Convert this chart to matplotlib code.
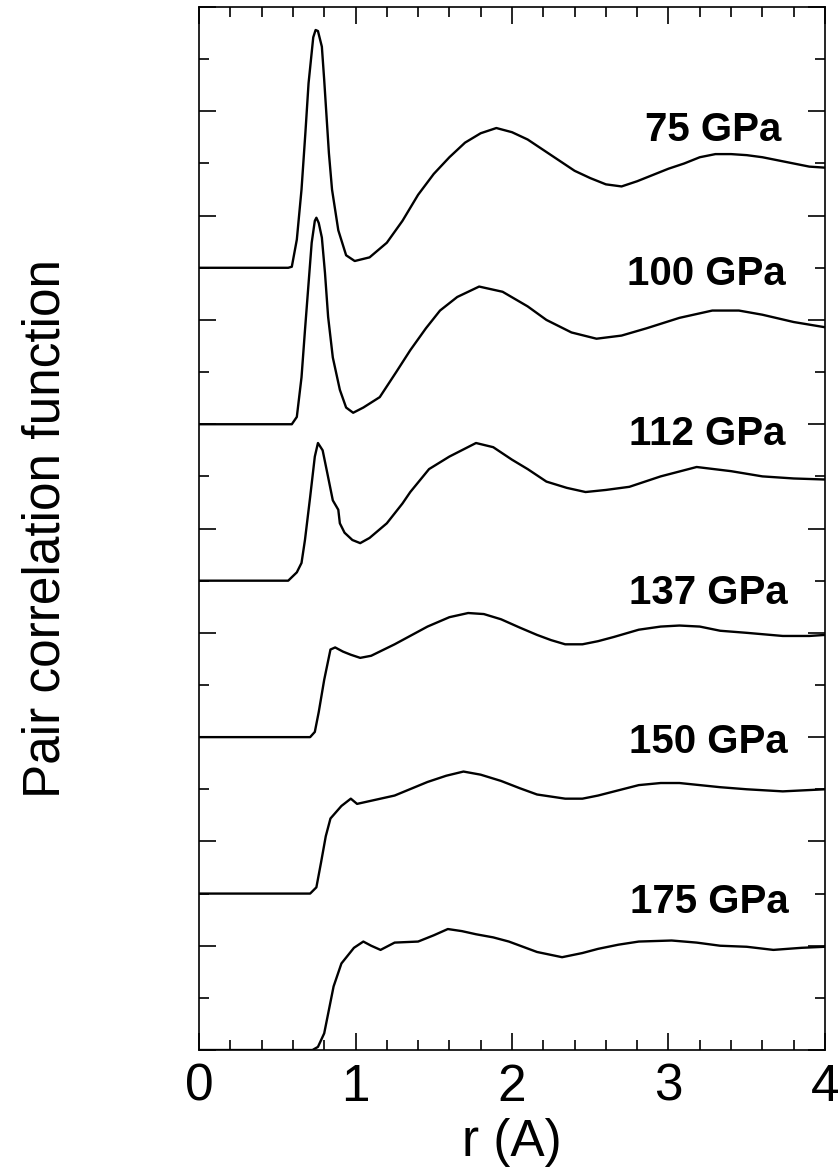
import matplotlib
matplotlib.use("Agg")
import matplotlib.pyplot as plt
import numpy as np
from matplotlib.ticker import MultipleLocator

plt.rcParams['font.family'] = ['Liberation Sans', 'DejaVu Sans']

# pressures and g(r)
pressures = ['75 GPa', '100 GPa', '112 GPa', '137 GPa', '150 GPa', '175 GPa']

r_75 = [0, 0.57, 0.593, 0.625, 0.655, 0.68, 0.70, 0.73, 0.745, 0.76, 0.785, 0.80, 0.815, 0.83,
        0.85, 0.89, 0.94, 0.995, 1.09, 1.2, 1.3, 1.4, 1.5, 1.6, 1.7, 1.8, 1.9, 2.0, 2.1, 2.2,
        2.3, 2.4, 2.5, 2.6, 2.7, 2.8, 2.9, 3.0, 3.1, 3.2, 3.3, 3.4, 3.5, 3.6, 3.7, 3.8, 3.9, 4.0]
g_75 = [0, 0, 0.01, 0.27, 0.75, 1.30, 1.77, 2.21, 2.28, 2.27, 2.12, 1.80, 1.45, 1.10,
        0.75, 0.36, 0.12, 0.065, 0.10, 0.24, 0.45, 0.70, 0.90, 1.06, 1.20, 1.29, 1.34, 1.30,
        1.23, 1.13, 1.03, 0.93, 0.86, 0.80, 0.78, 0.83, 0.89, 0.95, 1.00, 1.06, 1.09, 1.09,
        1.08, 1.06, 1.03, 1.00, 0.97, 0.96]

r_100 = [0, 0.593, 0.625, 0.655, 0.677, 0.70, 0.72, 0.74, 0.75, 0.765, 0.785, 0.805, 0.825,
         0.855, 0.90, 0.94, 0.985, 1.05, 1.155, 1.26, 1.35, 1.45, 1.54, 1.65, 1.79, 1.94, 2.1,
         2.22, 2.38, 2.54, 2.7, 2.86, 3.07, 3.28, 3.45, 3.60, 3.8, 4.0]
g_100 = [0, 0, 0.07, 0.45, 0.90, 1.35, 1.74, 1.95, 1.98, 1.93, 1.79, 1.45, 1.03,
         0.64, 0.33, 0.16, 0.11, 0.16, 0.26, 0.50, 0.71, 0.92, 1.09, 1.22, 1.32, 1.27, 1.13,
         1.00, 0.88, 0.82, 0.85, 0.92, 1.02, 1.09, 1.09, 1.05, 0.98, 0.93]

r_112 = [0, 0.57, 0.625, 0.655, 0.677, 0.71, 0.74, 0.76, 0.79, 0.82, 0.855, 0.89, 0.90, 0.93,
         0.98, 1.03, 1.09, 1.20, 1.30, 1.35, 1.47, 1.6, 1.77, 1.88, 2.0, 2.1, 2.22, 2.35, 2.47,
         2.6, 2.75, 2.95, 3.18, 3.4, 3.6, 3.8, 4.0]
g_112 = [0, 0, 0.08, 0.17, 0.39, 0.80, 1.19, 1.32, 1.25, 1.03, 0.77, 0.68, 0.55, 0.46,
         0.39, 0.36, 0.41, 0.55, 0.74, 0.85, 1.07, 1.19, 1.32, 1.28, 1.16, 1.07, 0.95, 0.89, 0.85,
         0.87, 0.90, 1.00, 1.09, 1.05, 1.00, 0.98, 0.97]

r_137 = [0, 0.71, 0.74, 0.765, 0.80, 0.84, 0.87, 0.92, 0.97, 1.03, 1.1, 1.25, 1.46, 1.6, 1.72,
         1.82, 1.93, 2.05, 2.16, 2.25, 2.34, 2.45, 2.55, 2.65, 2.81, 2.95, 3.07, 3.2, 3.33, 3.5,
         3.73, 3.9, 4.0]
g_137 = [0, 0, 0.05, 0.24, 0.55, 0.84, 0.86, 0.82, 0.79, 0.76, 0.78, 0.89, 1.06, 1.15, 1.19,
         1.18, 1.13, 1.05, 0.98, 0.93, 0.89, 0.89, 0.92, 0.96, 1.03, 1.06, 1.07, 1.06, 1.02, 1.00,
         0.97, 0.97, 0.98]

r_150 = [0, 0.71, 0.75, 0.78, 0.81, 0.84, 0.91, 0.97, 1.01, 1.1, 1.25, 1.46, 1.58, 1.69, 1.8,
         1.93, 2.05, 2.16, 2.34, 2.45, 2.55, 2.68, 2.81, 2.95, 3.07, 3.2, 3.33, 3.5, 3.73, 4.0]
g_150 = [0, 0, 0.06, 0.30, 0.55, 0.72, 0.84, 0.91, 0.86, 0.89, 0.94, 1.07, 1.13, 1.17, 1.14,
         1.08, 1.01, 0.95, 0.91, 0.91, 0.94, 0.99, 1.04, 1.06, 1.06, 1.04, 1.02, 1.00, 0.98, 1.00]

r_175 = [0, 0.725, 0.76, 0.80, 0.86, 0.91, 0.99, 1.05, 1.10, 1.16, 1.25, 1.40, 1.5, 1.59, 1.68,
         1.77, 1.88, 1.98, 2.16, 2.32, 2.45, 2.55, 2.68, 2.81, 3.02, 3.18, 3.33, 3.5, 3.67, 3.85, 4.0]
g_175 = [0, 0, 0.03, 0.16, 0.61, 0.83, 0.98, 1.04, 1.00, 0.96, 1.03, 1.04, 1.10, 1.16, 1.14,
         1.11, 1.08, 1.04, 0.94, 0.89, 0.93, 0.97, 1.01, 1.04, 1.05, 1.03, 1.00, 0.99, 0.96, 0.98, 0.99]

curves = [(r_75, g_75), (r_100, g_100), (r_112, g_112),
          (r_137, g_137), (r_150, g_150), (r_175, g_175)]

# each curve is shifted up by this much relative to the next higher pressure
shift = 1.5
label_x = [3.72, 3.75, 3.75, 3.76, 3.76, 3.77]
label_y = [8.82, 7.44, 5.91, 4.38, 2.95, 1.42]

fig = plt.figure(figsize=(8.39, 11.74), dpi=100)
ax = fig.add_axes([0.2372, 0.1056, 0.7461, 0.8884])

n = len(curves)
for i, (r, g) in enumerate(curves):
    offset = (n - 1 - i) * shift
    ax.plot(r, np.array(g) + offset, color='black', lw=1.7, solid_joinstyle='round')
    ax.text(label_x[i], label_y[i], pressures[i], ha='right', va='center',
            fontsize=29, fontweight='bold')

ax.set_xlim(0, 4)
ax.set_ylim(0, 10)

ax.xaxis.set_major_locator(MultipleLocator(1))
ax.xaxis.set_minor_locator(MultipleLocator(0.2))
ax.yaxis.set_major_locator(MultipleLocator(1))
ax.yaxis.set_minor_locator(MultipleLocator(0.5))
ax.tick_params(which='both', direction='in', top=True, right=True, width=1.2)
ax.tick_params(which='major', length=12, labelsize=37, pad=9)
ax.tick_params(which='minor', length=7)
ax.set_yticklabels([])
for s in ax.spines.values():
    s.set_linewidth(1.2)

ax.set_xlabel('r (A)', fontsize=37)
ax.xaxis.set_label_coords(0.5, -0.065)
ax.set_ylabel('Pair correlation function', fontsize=37)
ax.yaxis.set_label_coords(-0.205, 0.5)

plt.savefig('out.png', dpi=100)
